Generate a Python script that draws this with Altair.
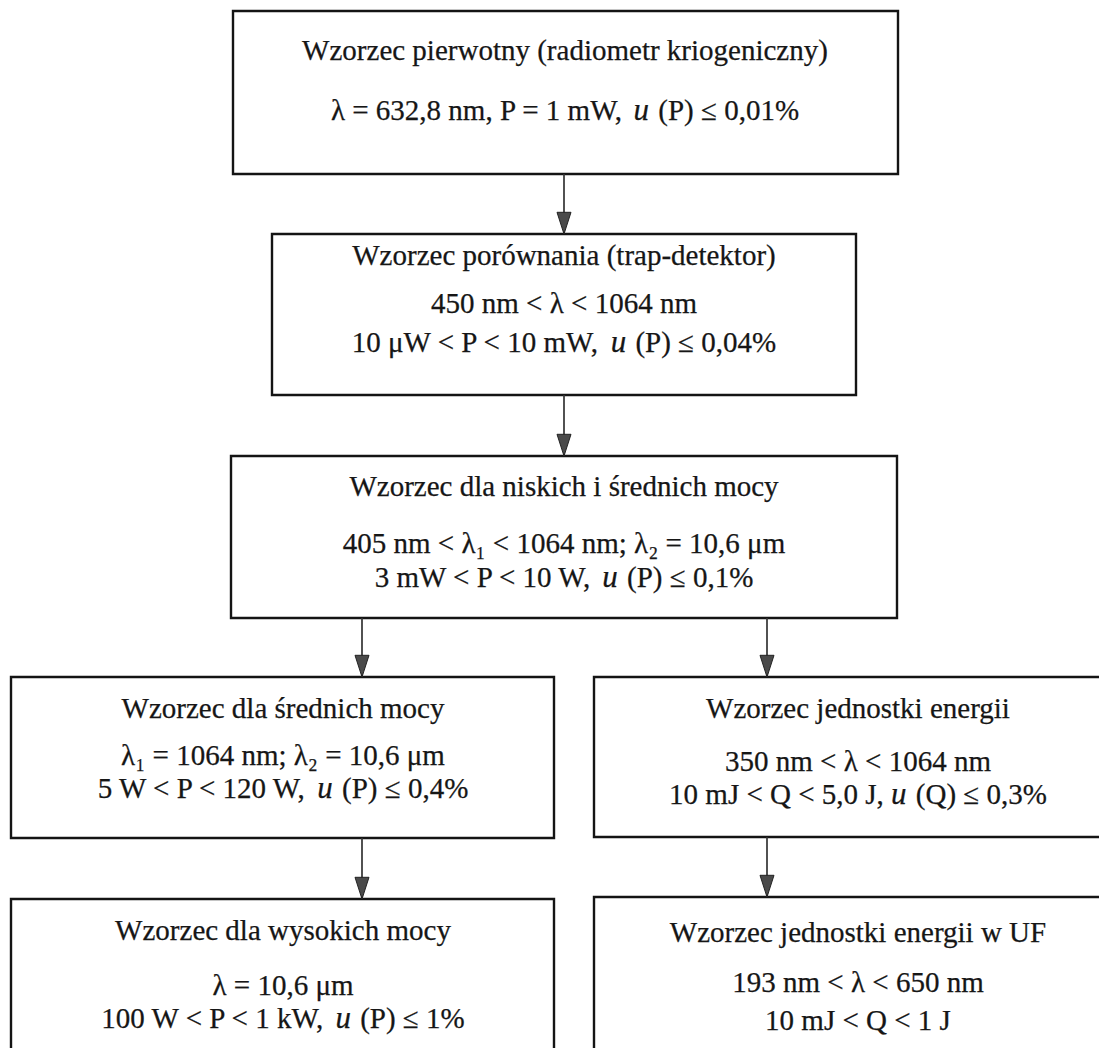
import altair as alt
import pandas as pd

FONT = "Liberation Serif"
FS = 29
FS_IT = 31
INK = "#161616"

# ---- boxes (diagram layout, pixel units of the page) ----
box_x0 = [233, 272, 231, 11, 594, 11, 594]
box_x1 = [898, 856, 897, 554, 1115, 554, 1115]
box_y0 = [11, 234, 456, 677, 677, 899, 897]
box_y1 = [174, 395, 618, 838, 837, 1075, 1075]
text_cx = [565, 564, 564, 283, 858, 283, 858]

# ---- arrows ----
arrow_x = [564, 564, 362, 767, 362, 767]
arrow_from = [174, 395, 618, 618, 838, 837]
arrow_to = [234, 456, 677, 677, 899, 897]

# ---- text lines: (box index, y, normal prefix, italic part, normal suffix) ----
line_box = [0, 0,
            1, 1, 1,
            2, 2, 2,
            3, 3, 3,
            4, 4, 4,
            5, 5, 5,
            6, 6, 6]
line_y = [51, 111,
          256, 304, 343,
          487, 544, 578,
          709, 756, 789,
          709, 762, 795,
          931, 986, 1019,
          933, 983, 1021]
line_pre = [
    "Wzorzec pierwotny (radiometr kriogeniczny)",
    "λ = 632,8 nm, P = 1 mW, ",
    "Wzorzec porównania (trap-detektor)",
    "450 nm < λ < 1064 nm",
    "10 μW < P < 10 mW, ",
    "Wzorzec dla niskich i średnich mocy",
    "405 nm < λ₁ < 1064 nm; λ₂ = 10,6 μm",
    "3 mW < P < 10 W, ",
    "Wzorzec dla średnich mocy",
    "λ₁ = 1064 nm; λ₂ = 10,6 μm",
    "5 W < P < 120 W, ",
    "Wzorzec jednostki energii",
    "350 nm < λ < 1064 nm",
    "10 mJ < Q < 5,0 J, ",
    "Wzorzec dla wysokich mocy",
    "λ = 10,6 μm",
    "100 W < P < 1 kW, ",
    "Wzorzec jednostki energii w UF",
    "193 nm < λ < 650 nm",
    "10 mJ < Q < 1 J",
]
line_it = ["", "u",
           "", "", "u",
           "", "", "u",
           "", "", "u",
           "", "", "u",
           "", "", "u",
           "", "", ""]
line_post = ["", " (P) ≤ 0,01%",
             "", "", " (P) ≤ 0,04%",
             "", "", " (P) ≤ 0,1%",
             "", "", " (P) ≤ 0,4%",
             "", "", " (Q) ≤ 0,3%",
             "", "", " (P) ≤ 1%",
             "", "", ""]

# Times-compatible advance widths (per 1000 em) for centring mixed-style lines
W = {" ": 250, ",": 250, ".": 250, "=": 564, "<": 564, "≤": 549, "%": 833,
     "(": 333, ")": 333, ";": 278, "λ": 500, "μ": 576, "P": 556, "W": 944,
     "Q": 722, "J": 389, "k": 500, "m": 778, "n": 500, "u": 500}


def tw(s, fs=FS):
    return sum(W.get(c, 500) for c in s) * fs / 1000.0


plain_rows, seg_rows = [], []
for b, y, pre, it, post in zip(line_box, line_y, line_pre, line_it, line_post):
    cx = text_cx[b]
    if not it:
        plain_rows.append({"x": cx, "y": y, "t": pre})
    else:
        # SVG drops leading/trailing blanks, so the gaps are added as offsets
        w_pre, w_it, w_post = tw(pre), tw(it, FS_IT) + 2, tw(post)
        lead = tw(post) - tw(post.lstrip())
        x0 = cx - (w_pre + w_it + w_post) / 2
        seg_rows.append({"x": x0, "y": y, "t": pre.rstrip(), "s": "normal"})
        seg_rows.append({"x": x0 + w_pre, "y": y, "t": it, "s": "italic"})
        seg_rows.append({"x": x0 + w_pre + w_it + lead, "y": y,
                         "t": post.lstrip(), "s": "normal"})

boxes = pd.DataFrame({"x0": box_x0, "x1": box_x1, "y0": box_y0, "y1": box_y1})
arrows = pd.DataFrame({"x": arrow_x, "y0": arrow_from, "y1": arrow_to})
plain = pd.DataFrame(plain_rows)
segs = pd.DataFrame(seg_rows)

XS = alt.Scale(domain=[8, 1099], nice=False, zero=False)
YS = alt.Scale(domain=[8, 1048], nice=False, zero=False, reverse=True)

rects = alt.Chart(boxes).mark_rect(
    fill="white", stroke="#141414", strokeWidth=2.4, clip=True
).encode(
    x=alt.X("x0:Q", scale=XS, axis=None), x2="x1:Q",
    y=alt.Y("y0:Q", scale=YS, axis=None), y2="y1:Q",
)

shafts = alt.Chart(arrows).mark_rule(color="#333333", strokeWidth=1.7).encode(
    x=alt.X("x:Q", scale=XS, axis=None),
    y=alt.Y("y0:Q", scale=YS, axis=None), y2="y1:Q",
)

heads = alt.Chart(arrows).mark_point(
    shape="M-1,-3.1 L1,-3.1 L0,0 Z", filled=True, fill="#4a4a4a",
    stroke="#222222", strokeWidth=1, opacity=1, size=196
).encode(
    x=alt.X("x:Q", scale=XS, axis=None),
    y=alt.Y("y1:Q", scale=YS, axis=None),
)

TXT = dict(font=FONT, color=INK, stroke=INK, strokeWidth=0.25, baseline="middle")

plain_text = alt.Chart(plain).mark_text(
    fontSize=FS, align="center", **TXT
).encode(
    x=alt.X("x:Q", scale=XS, axis=None),
    y=alt.Y("y:Q", scale=YS, axis=None),
    text="t:N",
)

seg_normal = alt.Chart(segs).transform_filter("datum.s == 'normal'").mark_text(
    fontSize=FS, align="left", **TXT
).encode(
    x=alt.X("x:Q", scale=XS, axis=None),
    y=alt.Y("y:Q", scale=YS, axis=None),
    text="t:N",
)

seg_italic = alt.Chart(segs).transform_filter("datum.s == 'italic'").mark_text(
    fontSize=FS_IT, fontStyle="italic", align="left", **TXT
).encode(
    x=alt.X("x:Q", scale=XS, axis=None),
    y=alt.Y("y:Q", scale=YS, axis=None),
    text="t:N",
)

chart = alt.layer(rects, shafts, heads, plain_text, seg_normal, seg_italic).properties(
    width=1091, height=1040, padding=0, background="white"
).configure_view(stroke=None)

chart.save("out.html", embed_options={"renderer": "svg", "actions": False})
